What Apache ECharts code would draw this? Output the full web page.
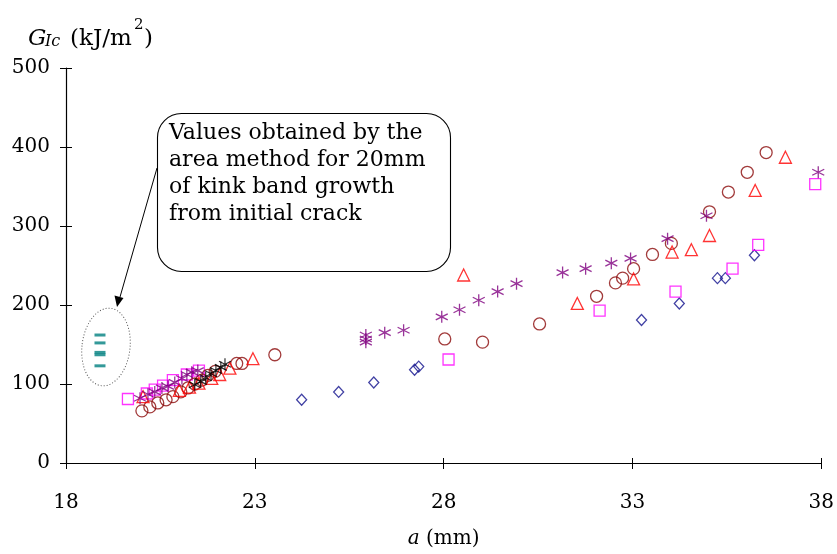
<!DOCTYPE html>
<html>
<head>
<meta charset="utf-8">
<script src="https://cdn.jsdelivr.net/npm/echarts@6/dist/echarts.min.js"></script>
<style>html,body{margin:0;padding:0;background:#fff}#c{width:837px;height:554px}</style>
</head>
<body>
<div id="c"></div>
<script>
// ---- data (a in mm, G_Ic in kJ/m^2) ----
const xTicks = [18, 23, 28, 33, 38];
const yTicks = [0, 100, 200, 300, 400, 500];
const circleData = [[20.01,66],[20.22,71],[20.43,76],[20.65,80],[20.83,84],[21.04,90],[21.23,95],[21.41,100],[21.60,105],[21.76,111],[21.95,116],[22.52,126],[22.66,126],[23.53,137],[28.03,157],[29.03,153],[30.54,176],[32.05,211],[32.55,228],[32.74,234],[33.03,246],[33.53,264],[34.03,278],[35.04,318],[35.54,343],[36.04,368],[36.54,393]];
const triangleData = [[20.04,84],[21.0,92],[21.27,96],[21.52,101],[21.86,107],[22.07,112],[22.34,120],[22.95,132],[28.53,238],[31.54,202],[33.03,233],[34.05,267],[34.56,270],[35.04,288],[36.25,345],[37.05,387]];
const starData = [[19.96,82],[20.17,87],[20.35,90],[20.54,95],[20.70,97],[20.88,102],[21.07,107],[21.20,112],[21.33,115],[21.49,117],[25.94,162],[25.94,157],[25.94,153],[26.44,165],[26.94,168],[27.95,185],[28.42,194],[28.93,206],[29.43,217],[29.93,227],[31.15,241],[31.76,246],[32.44,253],[32.95,259],[33.93,284],[34.96,313],[37.92,368]];
const squareData = [[19.64,81],[20.14,88],[20.35,93],[20.57,98],[20.83,105],[21.20,112],[21.52,117],[28.13,131],[32.13,193],[34.14,217],[35.65,246],[36.33,276],[37.84,353]];
const diamondData = [[24.24,80],[25.22,90],[26.15,102],[27.23,118],[27.34,122],[33.24,181],[34.24,202],[35.25,234],[35.46,234],[36.23,263]];
const blackData = [[21.41,99],[21.57,103],[21.70,108],[21.84,113],[21.97,117],[22.10,121],[22.21,125]];
const areaData = [[18.9,162],[18.9,152],[18.9,140],[18.9,137],[18.9,123]];
const noteLines = ['Values obtained by the','area method for 20mm','of kink band growth','from initial crack'];

const FONT = 'DejaVu Serif';
const star = 'path://M5 0 L5 10 M0.7 2.5 L9.3 7.5 M0.7 7.5 L9.3 2.5';

function sc(data, symbol, size, color, bw) {
  return {
    type: 'scatter', data: data, symbol: symbol, symbolSize: size,
    xAxisIndex: 0, yAxisIndex: 0,
    itemStyle: {color: 'rgba(0,0,0,0)', borderColor: color, borderWidth: bw || 1.3},
    emphasis: {disabled: true}, silent: true, z: 3
  };
}

const chart = echarts.init(document.getElementById('c'), null, {renderer: 'canvas'});
const axisCommon = {
  type: 'value', splitLine: {show: false}
};
chart.setOption({
  animation: false,
  backgroundColor: '#fff',
  grid: {left: 66, right: 15, top: 68, bottom: 85, containLabel: false},
  xAxis: [
    Object.assign({}, axisCommon, {
      min: xTicks[0], max: xTicks[xTicks.length-1], interval: 5, position: 'bottom',
      axisLine: {show: true, onZero: false, lineStyle: {color: '#000', width: 1.2}},
      axisTick: {show: true, inside: false, length: 6, lineStyle: {color: '#000', width: 1}},
      axisLabel: {show: true, margin: 30, fontFamily: FONT, fontSize: 20, color: '#000'},
      name: '{i|a} (mm)', nameLocation: 'middle', nameGap: 66,
      nameTextStyle: {fontFamily: FONT, fontSize: 20, color: '#000', rich: {i: {fontFamily: FONT, fontSize: 20, fontStyle: 'italic', color: '#000'}}}
    }),
    Object.assign({}, axisCommon, {
      min: xTicks[0], max: xTicks[xTicks.length-1], interval: 5, position: 'bottom',
      axisLine: {show: false}, axisLabel: {show: false},
      axisTick: {show: true, inside: true, length: 5, lineStyle: {color: '#000', width: 1}}
    })
  ],
  yAxis: [
    Object.assign({}, axisCommon, {
      min: yTicks[0], max: yTicks[yTicks.length-1], interval: 100, position: 'left',
      axisLine: {show: true, onZero: false, lineStyle: {color: '#000', width: 1.2}},
      axisTick: {show: true, inside: false, length: 6, lineStyle: {color: '#000', width: 1}},
      axisLabel: {show: true, margin: 16, fontFamily: FONT, fontSize: 20, color: '#000', verticalAlign: 'middle'}
    }),
    Object.assign({}, axisCommon, {
      min: yTicks[0], max: yTicks[yTicks.length-1], interval: 100, position: 'left', offset: 0,
      axisLine: {show: false}, axisLabel: {show: false},
      axisTick: {show: true, inside: true, length: 6, lineStyle: {color: '#000', width: 1}}
    })
  ],
  series: [
    sc(diamondData, 'diamond', [10, 11], '#10108c'),
    sc(squareData, 'rect', 11, '#ff00ff'),
    sc(circleData, 'circle', 12, '#8b0a0a'),
    sc(triangleData, 'triangle', 12, '#ff0000'),
    sc(starData, star, 12, '#800080', 1.3),
    sc(blackData, star, 12, '#000000', 1.2),
    {
      type: 'scatter', data: areaData, symbol: 'rect', symbolSize: [11, 3],
      itemStyle: {color: '#008080'}, silent: true, z: 3
    }
  ],
  graphic: [
    {type: 'text', x: 28, y: 28, style: {text: 'G', font: 'italic 23px ' + FONT, fill: '#000', textBaseline: 'alphabetic'}},
    {type: 'text', x: 45, y: 34, style: {text: 'Ic', font: 'italic 16px ' + FONT, fill: '#000', textBaseline: 'alphabetic'}},
    {type: 'text', x: 70, y: 28, style: {text: '(kJ/m', font: '23px ' + FONT, fill: '#000', textBaseline: 'alphabetic'}},
    {type: 'text', x: 134, y: 18, style: {text: '2', font: '15px ' + FONT, fill: '#000', textBaseline: 'alphabetic'}},
    {type: 'text', x: 144, y: 28, style: {text: ')', font: '23px ' + FONT, fill: '#000', textBaseline: 'alphabetic'}},
    {type: 'rect', shape: {x: 157.5, y: 113.5, width: 293, height: 158, r: 24},
     style: {fill: '#fff', stroke: '#000', lineWidth: 1.1}, z: 5},
    {type: 'text', x: 169, y: 120, z: 6,
     style: {text: noteLines.join('\n'), font: '22px ' + FONT, fill: '#000', lineHeight: 27}},
    {type: 'line', shape: {x1: 157, y1: 168, x2: 120, y2: 297}, style: {stroke: '#000', lineWidth: 1}, z: 5},
    {type: 'polygon', shape: {points: [[117, 307], [114.5, 295.5], [123.5, 298]]}, style: {fill: '#000'}, z: 5},
    {type: 'ellipse', x: 106, y: 347, rotation: -0.12, shape: {cx: 0, cy: 0, rx: 24, ry: 39},
     style: {fill: 'none', stroke: '#555', lineWidth: 1, lineDash: [1, 2]}, z: 5}
  ]
});
</script>
</body>
</html>
